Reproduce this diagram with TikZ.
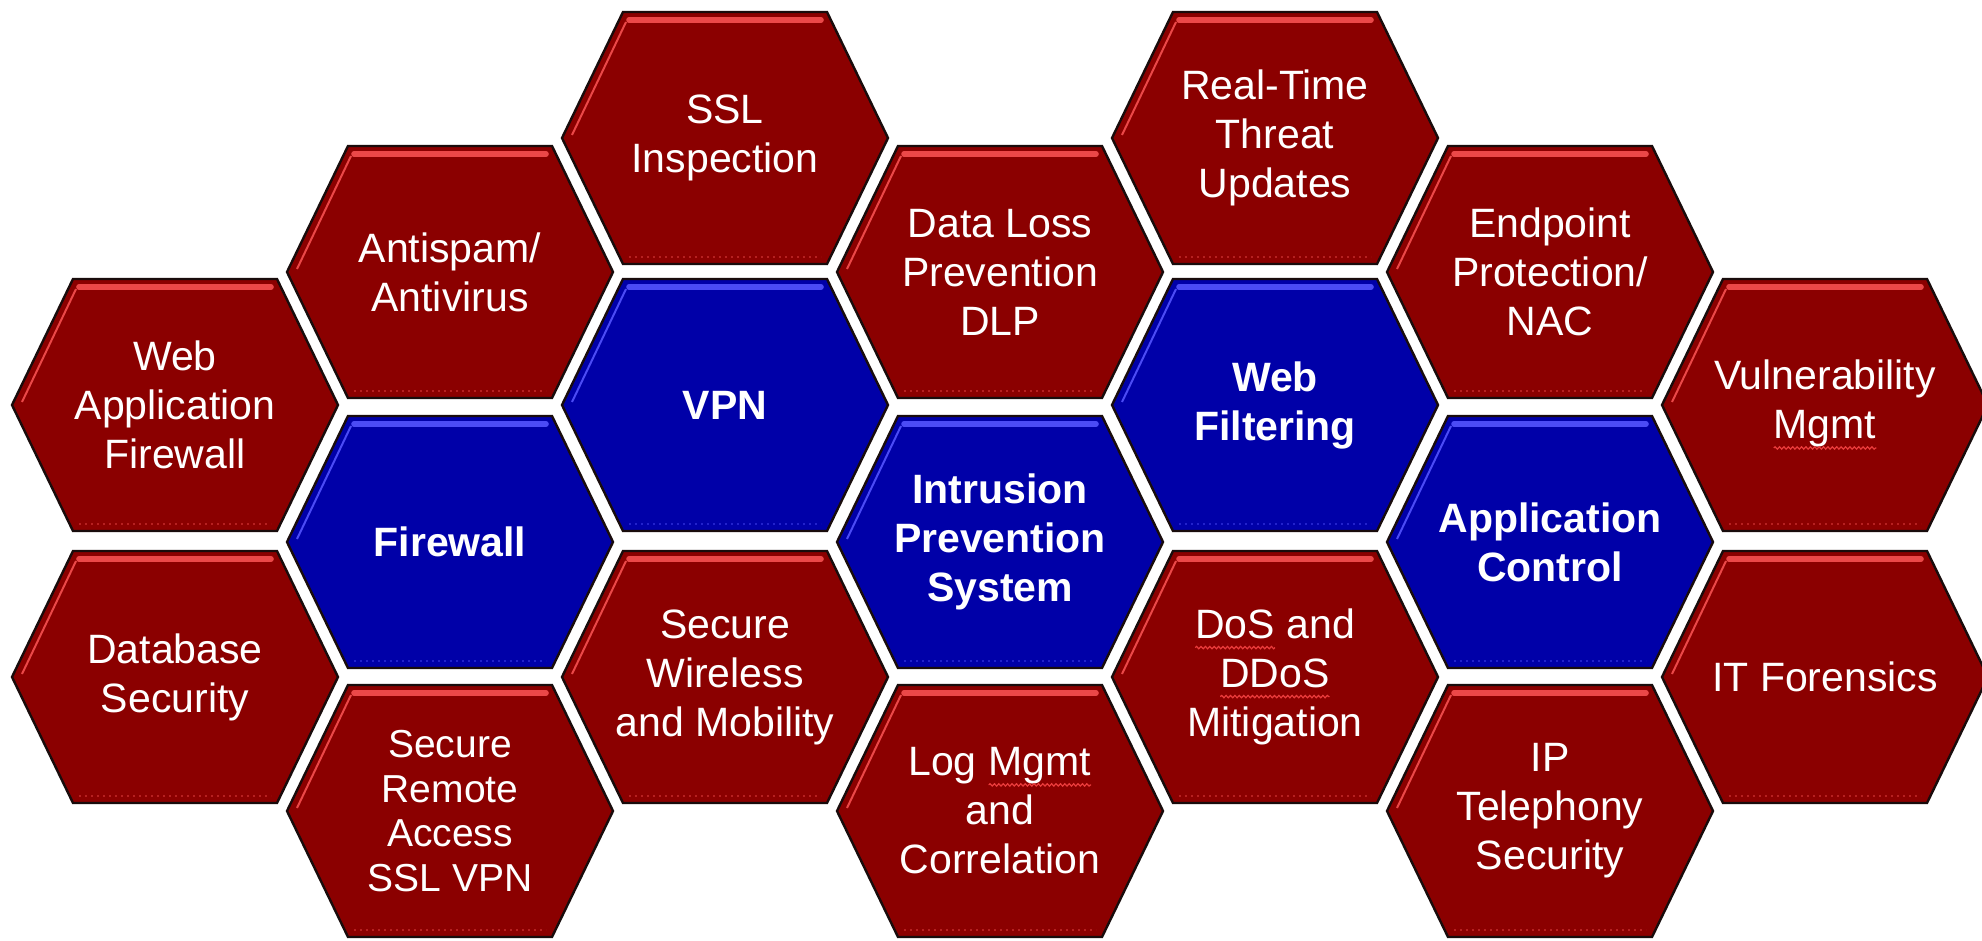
\documentclass[tikz,border=0pt]{standalone}
\usepackage{fontspec}
\setmainfont{Liberation Sans}
\usetikzlibrary{decorations.pathmorphing}
\definecolor{hexred}{RGB}{139,0,0}
\definecolor{hexredhi}{RGB}{235,72,72}
\definecolor{hexblue}{RGB}{0,0,168}
\definecolor{hexbluehi}{RGB}{75,75,245}
\definecolor{hexedge}{RGB}{25,12,12}
\definecolor{squigc}{RGB}{235,60,60}
\tikzset{
  hexborder/.style={draw=hexedge,line width=1.2pt,line join=miter},
  redtxt/.style={text=white,align=center,inner sep=0pt,font=\fontsize{20.5}{24.5}\selectfont},
  bluetxt/.style={text=white,align=center,inner sep=0pt,font=\fontsize{20.5}{24.5}\selectfont\bfseries},
  smalltxt/.style={font=\fontsize{19.5}{22.3}\selectfont}
}
\newcommand\spl[1]{\tikz[baseline=(sq.base)]{\node[inner sep=0pt,outer sep=0pt,text=white](sq){#1};\draw[squigc,line width=0.6pt,decorate,decoration={snake,amplitude=0.6pt,segment length=2.2pt}]([yshift=-4.5pt]sq.base west)--([yshift=-4.5pt]sq.base east);}}
\newcommand\hexcell[6][]{% [extra] name, x, y, kind, text
 \begin{scope}[shift={(#3,#4)}]
  \draw[hexborder,fill=hex#5] (-163,0) -- (-102,-126) -- (102,-126) -- (163,0) -- (102,126) -- (-102,126) -- cycle;
  \draw[line width=2.8pt,hex#5hi,line cap=round] (-96,-118) -- (96,-118);
  \draw[line width=1pt,hex#5hi] (-153,-3) -- (-99,-116);
  \draw[line width=1pt,hex#5hi!45!hex#5,dotted] (-96,119) -- (96,119);
 \end{scope}
 \node[#5txt,#1] (#2) at (#3,#4) {#6};
}
\begin{document}
\begin{tikzpicture}[x=0.5pt,y=-0.5pt]
\fill[white] (0,0) rectangle (1982,941);
\useasboundingbox (0,0) rectangle (1982,941);
% column 1
\hexcell{waf}{175}{405}{red}{Web\\Application\\Firewall}
\hexcell{dbsec}{175}{677}{red}{Database\\Security}
% column 2
\hexcell{antispam}{450}{272}{red}{Antispam/\\Antivirus}
\hexcell{firewall}{450}{542}{blue}{Firewall}
\hexcell[smalltxt]{sra}{450}{811}{red}{Secure\\Remote\\Access\\SSL VPN}
% column 3
\hexcell{ssl}{725}{138}{red}{SSL\\Inspection}
\hexcell{vpn}{725}{405}{blue}{VPN}
\hexcell{wireless}{725}{677}{red}{Secure\\Wireless\\and Mobility}
% column 4
\hexcell{dlp}{1000}{272}{red}{Data Loss\\Prevention\\DLP}
\hexcell{ips}{1000}{542}{blue}{Intrusion\\Prevention\\System}
\hexcell{logm}{1000}{811}{red}{Log \spl{Mgmt}\\and\\Correlation}
% column 5
\hexcell{rtt}{1275}{138}{red}{Real-Time\\Threat\\Updates}
\hexcell{webf}{1275}{405}{blue}{Web\\Filtering}
\hexcell{dos}{1275}{677}{red}{\spl{DoS} and\\\spl{DDoS}\\Mitigation}
% column 6
\hexcell{endp}{1550}{272}{red}{Endpoint\\Protection/\\NAC}
\hexcell{appc}{1550}{542}{blue}{Application\\Control}
\hexcell{ipt}{1550}{811}{red}{IP\\Telephony\\Security}
% column 7
\hexcell{vuln}{1825}{405}{red}{Vulnerability\\\spl{Mgmt}}
\hexcell{itf}{1825}{677}{red}{IT Forensics}
\end{tikzpicture}
\end{document}
